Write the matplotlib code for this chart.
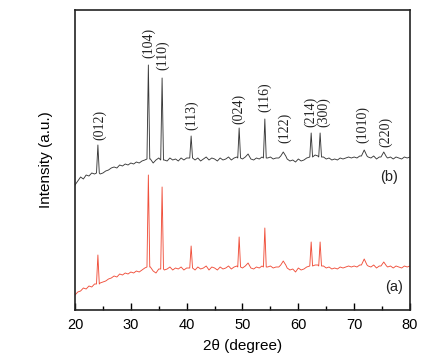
import numpy as np
import matplotlib
matplotlib.use("Agg")
import matplotlib.pyplot as plt

# ---------------- data ----------------
grid_start, grid_step = 20.0, 0.5

base_b = [125, 129, 133, 131, 135, 134, 137, 136, 138, 136, 137, 139, 140, 142, 143, 142,
          145, 144, 146, 145, 147, 146, 148, 147, 149, 150, 151, 151, 147, 150, 152, 151,
          150, 149, 152, 150, 151, 149, 152, 150, 152, 153, 152, 150, 152, 149, 151, 153,
          150, 152, 151, 149, 152, 150, 151, 153, 150, 152, 153, 153, 151, 153, 156, 151,
          150, 152, 151, 153, 153, 152, 153, 151, 152, 152, 154, 156, 151, 149, 150, 148,
          151, 149, 150, 152, 153, 153, 155, 154, 154, 153, 151, 152, 150, 151, 150, 152,
          151, 152, 153, 152, 153, 152, 154, 156, 157, 153, 152, 154, 151, 153, 155, 155,
          152, 153, 151, 153, 152, 151, 153, 152, 153]

base_a = [15, 18, 19, 22, 21, 24, 23, 26, 25, 27, 28, 29, 31, 32, 34, 33,
          36, 35, 37, 36, 38, 37, 39, 38, 40, 42, 43, 43, 39, 37, 41, 42,
          40, 41, 43, 40, 42, 41, 43, 40, 42, 43, 42, 40, 43, 41, 42, 44,
          40, 43, 42, 40, 43, 41, 42, 44, 41, 43, 44, 44, 42, 44, 47, 42,
          41, 43, 42, 44, 44, 43, 44, 42, 43, 43, 45, 47, 42, 40, 41, 38,
          42, 40, 41, 43, 44, 44, 45, 45, 45, 44, 42, 43, 41, 42, 41, 43,
          42, 43, 44, 43, 44, 43, 45, 47, 48, 44, 43, 45, 42, 44, 46, 46,
          43, 44, 42, 44, 43, 42, 44, 43, 44]

hkl = ["(012)", "(104)", "(110)", "(113)", "(024)", "(116)", "(122)",
       "(214)", "(300)", "(1010)", "(220)"]
peak_pos = [24.1, 33.14, 35.6, 40.8, 49.4, 54.0, 57.3, 62.3, 63.9, 71.8, 75.3]
peak_hw = [0.25, 0.25, 0.25, 0.25, 0.25, 0.25, 0.45, 0.25, 0.25, 0.5, 0.5]

foot_b = [137, 151, 150, 152, 152, 152, 154, 153, 153, 154, 153]
top_b = [165, 245, 232, 174, 182, 191, 158, 177, 177, 160, 158]
foot_a = [26, 43, 41, 42, 43, 43, 45, 44, 44, 45, 44]
top_a = [55, 135, 123, 64, 73, 82, 49, 68, 68, 51, 48]

label_x = [24.48, 33.26, 35.77, 40.97, 49.39, 54.05, 57.63, 62.29, 64.62, 71.6, 75.56]
label_y = [170, 252, 240, 180, 186, 198, 167, 183, 183, 167, 163]


def build(base, foot, top):
    xs = grid_start + grid_step * np.arange(len(base))
    pts = []
    for x, y in zip(xs, base):
        if all(abs(x - p) > hw + 0.05 for p, hw in zip(peak_pos, peak_hw)):
            pts.append((x, y))
    for p, hw, f, t in zip(peak_pos, peak_hw, foot, top):
        pts += [(p - hw, f), (p, t), (p + hw, f)]
    pts.sort()
    return np.array(pts).T


fig = plt.figure(figsize=(4.30, 3.58), dpi=100)
ax = fig.add_axes([75 / 430, 48 / 358, 335 / 430, 300 / 358])

xb, yb = build(base_b, foot_b, top_b)
xa, ya = build(base_a, foot_a, top_a)
ax.plot(xb, yb, color="#3a3a3a", lw=0.65)
ax.plot(xa, ya, color="#f0503c", lw=0.65)

for t, x, y in zip(hkl, label_x, label_y):
    ax.text(x, y, t, rotation=90, ha="center", va="bottom",
            family="Liberation Serif", fontsize=10, color="#222222")

ax.text(76.2, 133, "(b)", ha="center", va="center", fontsize=10.5,
        family="Liberation Sans", color="#222222")
ax.text(77.1, 23, "(a)", ha="center", va="center", fontsize=10.5,
        family="Liberation Sans", color="#222222")

ax.set_xlim(20, 80)
ax.set_ylim(0, 300)
ax.set_xticks([20, 30, 40, 50, 60, 70, 80])
ax.set_xticks([25, 35, 45, 55, 65, 75], minor=True)
ax.set_yticks([])
ax.tick_params(axis="x", which="major", direction="in", length=5, width=1,
               labelsize=10.5, pad=6)
ax.tick_params(axis="x", which="minor", direction="in", length=3, width=1)
for lab in ax.get_xticklabels():
    lab.set_family("Liberation Sans")
for s in ax.spines.values():
    s.set_linewidth(1.2)
    s.set_color("#222222")

ax.set_xlabel("2θ (degree)", fontsize=11, family="Liberation Sans", labelpad=5)
ax.set_ylabel("Intensity (a.u.)", fontsize=11, family="Liberation Sans", labelpad=16)

fig.savefig("out.png", dpi=100)
